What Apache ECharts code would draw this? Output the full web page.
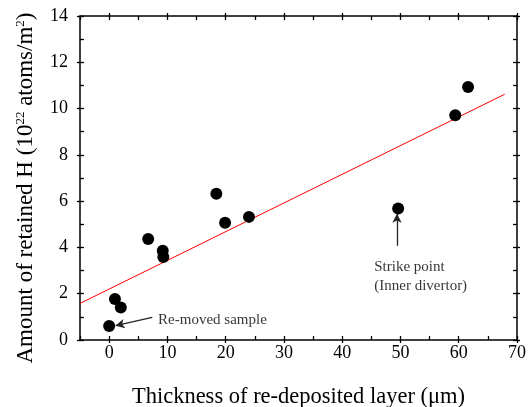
<!DOCTYPE html>
<html>
<head>
<meta charset="utf-8">
<script src="https://cdn.jsdelivr.net/npm/echarts@6/dist/echarts.min.js"></script>
<style>
  html, body { margin: 0; padding: 0; background: #fff; }
  #chart { width: 532px; height: 407px; }
</style>
</head>
<body>
<div id="chart"></div>
<script>
// measured samples: thickness (um), retained H (1e22 atoms/m2)
const thickness = [0, 1.0, 2.0, 6.7, 9.2, 9.3, 18.4, 19.9, 24.0, 49.6, 59.4, 61.6]
const retainedH = [0.60, 1.77, 1.40, 4.36, 3.86, 3.59, 6.32, 5.07, 5.32, 5.68, 9.71, 10.93]

// linear fit drawn in red
const fitX = [-5, 67.9]
const fitY = [1.58, 10.62]

// annotation arrows [from, to]
const removedArrow = [[7.4, 0.98], [1.1, 0.62]]
const strikeArrow = [[49.4, 4.07], [49.4, 5.45]]

// annotation labels [x, y, text]
const notes = [
  [8.4, 0.86, 'Re-moved sample'],
  [45.5, 2.75, 'Strike point\n(Inner divertor)']
]

const xMajor = [0, 10, 20, 30, 40, 50, 60, 70]
const yMajor = [0, 2, 4, 6, 8, 10, 12, 14]

const font = 'Liberation Serif, Times New Roman, serif'
const black = '#000'

const chart = echarts.init(document.getElementById('chart'))

// inside ticks every 5 / 1 units, plus outward stubs on the majors
function axis(kind, pos, inside, extra) {
  const isX = kind === 'x'
  return Object.assign({
    type: 'value', position: pos,
    min: isX ? -5 : 0, max: isX ? 70 : 14,
    interval: isX ? 5 : 1,
    axisLine: { show: inside, onZero: false, lineStyle: { color: black, width: 1.5 } },
    axisTick: inside
      ? { show: true, inside: true, length: 4, lineStyle: { color: black, width: 1.3 } }
      : { show: true, inside: false, length: 3, customValues: isX ? xMajor : yMajor,
          lineStyle: { color: black, width: 1.3 } },
    axisLabel: { show: false },
    splitLine: { show: false }
  }, extra || {})
}

chart.setOption({
  animation: false,
  backgroundColor: '#fff',
  grid: { left: 80, right: 15, top: 16, bottom: 67, outerBoundsMode: 'none', containLabel: false },
  xAxis: [
    axis('x', 'bottom', true, {
      name: 'Thickness of re-deposited layer (\u03bcm)',
      nameLocation: 'middle', nameGap: 46,
      nameTextStyle: { fontFamily: font, fontSize: 22.5, color: black },
      axisLabel: {
        show: true, margin: 4, fontFamily: font, fontSize: 18, color: black,
        customValues: xMajor
      }
    }),
    axis('x', 'bottom', false),
    axis('x', 'top', true),
    axis('x', 'top', false)
  ],
  yAxis: [
    axis('y', 'left', true, {
      name: 'Amount of retained H (10{s|22} atoms/m{s|2})',
      nameLocation: 'middle', nameGap: 42,
      nameTextStyle: {
        fontFamily: font, fontSize: 23, color: black, padding: [0, 20, 0, 0],
        rich: { s: { fontFamily: font, fontSize: 13, verticalAlign: 'top', padding: [0, 0, 11, 0] } }
      },
      axisLabel: {
        show: true, margin: 12, fontFamily: font, fontSize: 18, color: black,
        customValues: yMajor
      }
    }),
    axis('y', 'left', false),
    axis('y', 'right', true),
    axis('y', 'right', false)
  ],
  series: [
    {
      type: 'line',
      data: fitX.map((x, i) => [x, fitY[i]]),
      symbol: 'none',
      lineStyle: { color: '#ff0000', width: 1 },
      z: 2
    },
    {
      type: 'scatter',
      data: thickness.map((x, i) => [x, retainedH[i]]),
      symbol: 'circle',
      symbolSize: 12,
      itemStyle: { color: black, opacity: 1 },
      z: 3,
      markLine: {
        silent: true,
        symbol: ['none', 'arrow'],
        symbolSize: [7, 9],
        label: { show: false },
        lineStyle: { color: '#222', width: 1.3, type: 'solid', opacity: 1 },
        data: [
          [{ coord: removedArrow[0] }, { coord: removedArrow[1] }],
          [{ coord: strikeArrow[0] }, { coord: strikeArrow[1] }]
        ]
      }
    },
    {
      type: 'scatter',
      data: notes.map(n => [n[0], n[1], n[2]]),
      symbolSize: 0,
      silent: true,
      label: {
        show: true, position: 'right', distance: 0,
        fontFamily: font, fontSize: 15, color: black, lineHeight: 19,
        formatter: p => p.value[2]
      }
    }
  ]
})
</script>
</body>
</html>
